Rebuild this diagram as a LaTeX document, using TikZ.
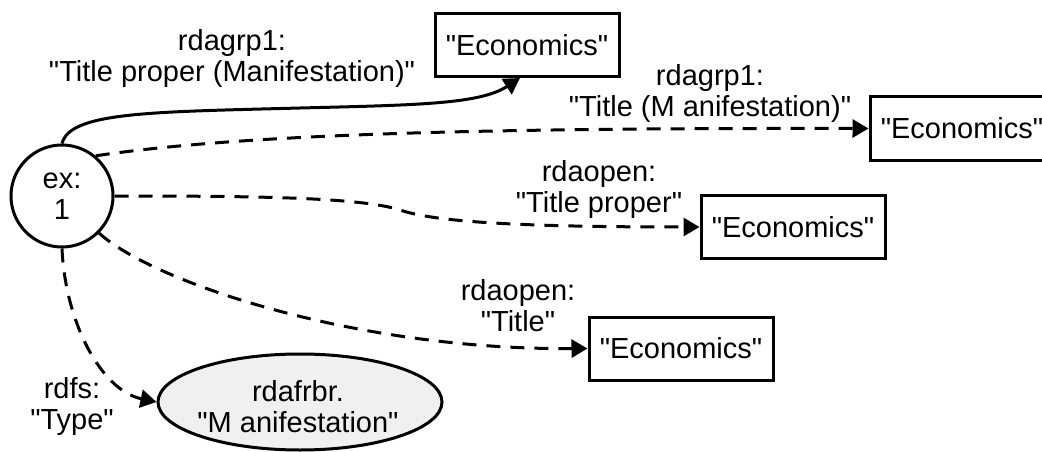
\documentclass[tikz,border=0pt]{standalone}
\usepackage{fontspec}
\setmainfont{Liberation Sans}[Ligatures=TeXOff]
\usetikzlibrary{arrows.meta,shapes.geometric,calc}
\definecolor{classfill}{HTML}{F0F0F0}
\begin{document}
\begin{tikzpicture}[x=1pt,y=-1pt,
  every node/.style={font=\fontsize{29}{31}\selectfont, align=center, inner sep=0pt},
  literal/.style={draw, line width=3pt, minimum width=184pt, minimum height=63pt},
  resource/.style={draw, circle, line width=3pt, minimum size=102pt},
  classnode/.style={draw, ellipse, line width=3pt, fill=classfill, minimum width=284pt, minimum height=96pt},
  prop/.style={line width=3pt, -{Triangle[length=16pt,width=18pt]}},
  optprop/.style={prop, dash pattern=on 14pt off 10pt}]
\clip (0,0) rectangle (1042,452);
\fill[white] (0,0) rectangle (1042,452);

% nodes
\node[resource] (ex) at (62,196) {ex:\\1};
\node[literal] (lit1) at (527,45) {"Economics"};
\node[literal] (lit2) at (962,128.5) {"Economics"};
\node[literal] (lit3) at (793,227) {"Economics"};
\node[literal] (lit4) at (681,348.5) {"Economics"};
\node[classnode] (cls) at (300,402) {};
\node at (298,407) {rdafrbr.\\"M anifestation"};

% property labels
\node (l1) at (232,59) {rdagrp1:\\"Title proper (Manifestation)"};
\node (l2) at (710,93) {rdagrp1:\\"Title (M anifestation)"};
\node (l3) at (599,190) {rdaopen:\\"Title proper"};
\node (l4) at (518,306) {rdaopen:\\"Title"};
\node (l5) at (72,406) {rdfs:\\"Type"};

% connectors
\draw[prop] (ex.north) .. controls (70,112) and (150,112) .. (300,108)
  .. controls (420,105) and (480,104) .. ($(lit1.south)+(-7,0)$);
\draw[optprop] (ex.50) .. controls (250,133) and (500,128) .. (lit2.west);
\draw[optprop] (ex.east) .. controls (250,196) and (360,197) .. (400,210)
  .. controls (435,222) and (520,227) .. (lit3.west);
\draw[optprop] (ex.-45) .. controls (150,280) and (350,350) .. (lit4.west);
\draw[optprop] (ex.south) .. controls (65,320) and (100,390) .. (cls.west);
\end{tikzpicture}
\end{document}
